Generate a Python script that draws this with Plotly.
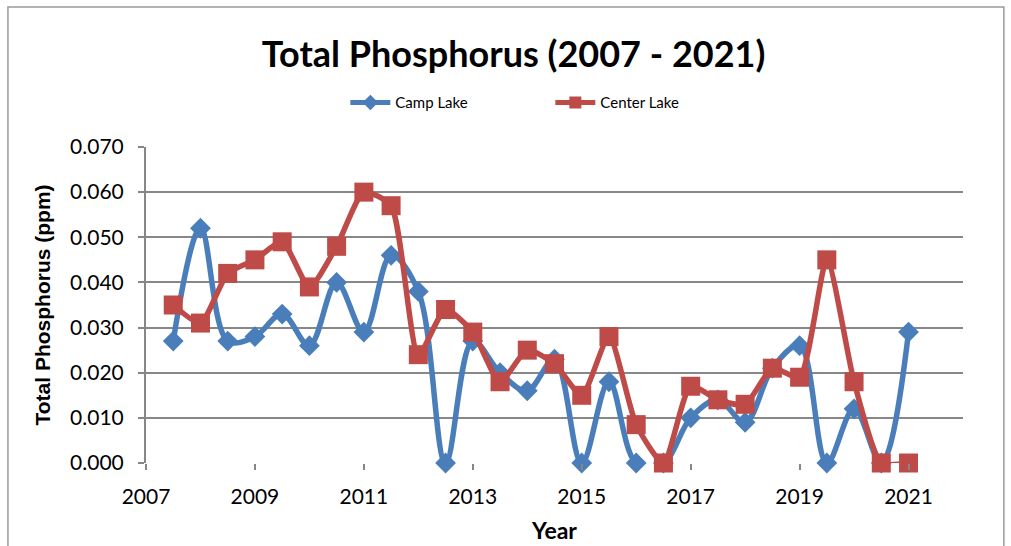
import plotly.graph_objects as go

years = [2007.5, 2008, 2008.5, 2009, 2009.5, 2010, 2010.5, 2011, 2011.5, 2012,
         2012.5, 2013, 2013.5, 2014, 2014.5, 2015, 2015.5, 2016, 2016.5, 2017,
         2017.5, 2018, 2018.5, 2019, 2019.5, 2020, 2020.5, 2021]
camp_lake = [0.027, 0.052, 0.027, 0.028, 0.033, 0.026, 0.040, 0.029, 0.046, 0.038,
             0.000, 0.027, 0.020, 0.016, 0.023, 0.000, 0.018, 0.000, 0.000, 0.010,
             0.014, 0.009, 0.021, 0.026, 0.000, 0.012, 0.000, 0.029]
center_lake = [0.035, 0.031, 0.042, 0.045, 0.049, 0.039, 0.048, 0.060, 0.057, 0.024,
               0.034, 0.029, 0.018, 0.025, 0.022, 0.015, 0.028, 0.0085, 0.000, 0.017,
               0.014, 0.013, 0.021, 0.019, 0.045, 0.018, 0.000, 0.000]
x_ticks = [2007, 2009, 2011, 2013, 2015, 2017, 2019, 2021]
y_ticks = [0.0, 0.01, 0.02, 0.03, 0.04, 0.05, 0.06, 0.07]

BLUE = "#4A7EBB"
RED = "#BE4B48"
GRID = "#878787"
FONT = "Lato"

fig = go.Figure()
fig.add_trace(go.Scatter(
    x=years, y=camp_lake, name="Camp Lake", mode="lines+markers", cliponaxis=False,
    line=dict(color=BLUE, width=5.5, shape="spline", smoothing=1.0),
    marker=dict(symbol="diamond", size=16, color=BLUE),
))
fig.add_trace(go.Scatter(
    x=years, y=center_lake, name="Center Lake", mode="lines+markers", cliponaxis=False,
    line=dict(color=RED, width=5.5, shape="spline", smoothing=0.6),
    marker=dict(symbol="square", size=19, color=RED),
))

fig.update_layout(
    width=1011, height=546,
    margin=dict(l=146, r=48, t=147, b=83, autoexpand=False),
    paper_bgcolor="white", plot_bgcolor="white",
    font=dict(family=FONT, color="black"),
    title=dict(text="<b>Total Phosphorus (2007 - 2021)</b>", x=0.508, xanchor="center",
               y=0.9, yanchor="middle", font=dict(size=36, family=FONT)),
    legend=dict(orientation="h", x=0.244, xanchor="left", y=1.14, yanchor="middle",
                font=dict(size=15, family=FONT), itemwidth=40, tracegroupgap=0,
                entrywidth=150, itemsizing="constant"),
    showlegend=True,
)
fig.update_xaxes(
    range=[2007, 2022], tickvals=x_ticks, ticktext=[str(v) for v in x_ticks],
    showgrid=False, zeroline=False, showline=False,
    ticks="outside", ticklen=6, tickwidth=2, tickcolor=GRID,
    ticklabelstandoff=9,
    tickfont=dict(size=21, family=FONT),
    title=dict(text="<b>Year</b>", font=dict(size=23, family=FONT), standoff=15),
)
fig.update_yaxes(
    range=[0, 0.07], tickvals=y_ticks, tickformat=".3f",
    showgrid=True, gridcolor=GRID, gridwidth=2, zeroline=False,
    showline=True, linecolor=GRID, linewidth=2,
    ticks="outside", ticklen=6, tickwidth=2, tickcolor=GRID,
    ticklabelstandoff=10,
    tickfont=dict(size=21, family=FONT),
    title=dict(text="<b>Total Phosphorus (ppm)</b>", font=dict(size=21, family="Liberation Sans"), standoff=14),
)
# outer chart border
fig.add_shape(type="rect", xref="paper", yref="paper", x0=-0.169, x1=1.05, y0=-0.5, y1=1.443,
              line=dict(color="#9a9a9a", width=1.5), layer="below")

fig.write_html("out.html", config={"displayModeBar": False},
               post_script="document.body.style.margin='0px';")
